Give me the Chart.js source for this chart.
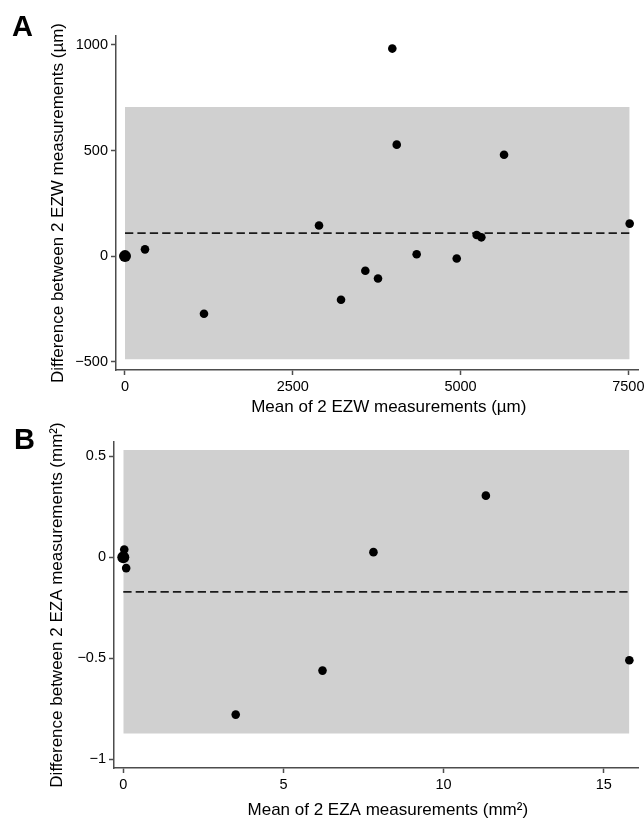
<!DOCTYPE html>
<html>
<head>
<meta charset="utf-8">
<script src="https://cdn.jsdelivr.net/npm/chart.js@4"></script>
<style>
  body { margin: 0; background: #fff; }
  #wrap { position: relative; width: 644px; height: 821px; }
  canvas { position: absolute; left: 0; }
  .lbl { position: absolute; font: bold 29px "Liberation Sans", Arial, sans-serif; line-height: 1; color: #000; }
</style>
</head>
<body>
<div id="wrap">
  <canvas id="chartA" width="644" height="420" style="top:0"></canvas>
  <canvas id="chartB" width="644" height="401" style="top:420px"></canvas>
  <div class="lbl" style="left:12px; top:12px">A</div>
  <div class="lbl" style="left:14px; top:425px">B</div>
</div>
<script>
// panel A - EZW, µm
const meanA = [0, 298, 1177, 2891, 3219, 3581, 3770, 3983, 4049, 4346, 4943, 5240, 5310, 5648, 7520];
const diffA = [0, 32, -273, 145, -207, -69, -106, 983, 528, 9, -11, 100, 89, 480, 154];
const nA    = [3, 1, 1, 1, 1, 1, 1, 1, 1, 1, 1, 1, 1, 1, 1];
const biasA = 109;
const loaA  = [-488, 706];
const xTicksA = [0, 2500, 5000, 7500];
const yTicksA = [-500, 0, 500, 1000];

// panel B - EZA, mm²
const meanB = [0, 0.03, 0.09, 3.51, 6.22, 7.81, 11.32, 15.8];
const diffB = [0, 0.038, -0.054, -0.78, -0.562, 0.025, 0.305, -0.511];
const nB    = [2, 1, 1, 1, 1, 1, 1, 1];
const biasB = -0.172;
const loaB  = [-0.873, 0.531];
const xTicksB = [0, 5, 10, 15];
const yTicksB = [-1, -0.5, 0, 0.5];

const FONT = '"Liberation Sans", Arial, Helvetica, sans-serif';
const AXIS = '#4d4d4d';

function fmt(v) {
  return String(v).replace('-', '\u2212');
}

function scaleOpts(min, max, ticks, title, titlePad, fitFn) {
  return {
    type: 'linear',
    min: min,
    max: max,
    border: { display: true, color: AXIS, width: 1.5 },
    grid: { drawOnChartArea: false, drawTicks: true, tickLength: 5, tickWidth: 1.5, tickColor: AXIS, color: AXIS },
    ticks: {
      autoSkip: false,
      maxRotation: 0,
      padding: 3,
      color: '#000',
      font: { family: FONT, size: 14.5 },
      callback: v => fmt(v)
    },
    afterBuildTicks: s => { s.ticks = ticks.map(v => ({ value: v })); },
    afterFit: fitFn,
    title: { display: true, text: title, color: '#000', font: { family: FONT, size: 17 }, padding: titlePad }
  };
}

function makePanel(id, xs, ys, ns, bias, loa, o) {
  const pts = xs.map((x, i) => ({ x: x, y: ys[i] }));
  const x0 = Math.min(...xs), x1 = Math.max(...xs);
  new Chart(document.getElementById(id), {
    type: 'scatter',
    data: {
      datasets: [
        {
          data: pts,
          showLine: false,
          backgroundColor: '#000',
          borderWidth: 0,
          pointRadius: c => (ns[c.dataIndex] > 1 ? 6 : 4.3)
        },
        {
          data: [{ x: x0, y: bias }, { x: x1, y: bias }],
          showLine: true,
          borderColor: '#1a1a1a',
          borderWidth: 1.8,
          borderDash: [8.3, 4.1],
          pointRadius: 0
        },
        {
          data: [{ x: x0, y: loa[1] }, { x: x1, y: loa[1] }],
          showLine: true,
          borderColor: 'transparent',
          borderWidth: 0,
          backgroundColor: '#d0d0d0',
          fill: '+1',
          pointRadius: 0
        },
        {
          data: [{ x: x0, y: loa[0] }, { x: x1, y: loa[0] }],
          showLine: true,
          borderColor: 'transparent',
          borderWidth: 0,
          fill: false,
          pointRadius: 0
        }
      ]
    },
    options: {
      responsive: false,
      animation: false,
      layout: { padding: { top: o.top, right: 6, left: 0, bottom: 0 } },
      plugins: { legend: { display: false }, tooltip: { enabled: false } },
      scales: {
        x: scaleOpts(o.xmin, o.xmax, o.xt, o.xtitle, { top: 0, bottom: o.xpad },
          s => { s.height = o.xh; s.paddingLeft = 0; s.paddingRight = 0; }),
        y: scaleOpts(o.ymin, o.ymax, o.yt, o.ytitle, { top: o.ypad, bottom: 0 },
          s => { s.width = o.yw; s.paddingTop = 0; s.paddingBottom = 0; })
      }
    }
  });
}

makePanel('chartA', meanA, diffA, nA, biasA, loaA, {
  top: 36, xh: 50, yw: 116,
  xmin: -134, xmax: 7644, ymin: -539.4, ymax: 1042.6,
  xt: xTicksA, yt: yTicksA,
  xtitle: '     Mean of 2 EZW measurements (\u00b5m)',
  ytitle: 'Difference between 2 EZW measurements (\u00b5m)',
  xpad: 2, ypad: 48
});

makePanel('chartB', meanB, diffB, nB, biasB, loaB, {
  top: 22, xh: 53, yw: 114,
  xmin: -0.29, xmax: 16.07, ymin: -1.0445, ymax: 0.5707,
  xt: xTicksB, yt: yTicksB,
  xtitle: '     Mean of 2 EZA measurements (mm\u00b2)',
  ytitle: 'Difference between 2 EZA measurements (mm\u00b2)',
  xpad: 0, ypad: 47
});
</script>
</body>
</html>
